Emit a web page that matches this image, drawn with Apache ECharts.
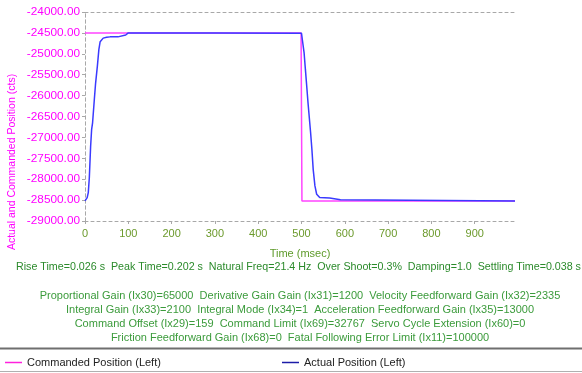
<!DOCTYPE html>
<html><head><meta charset="utf-8">
<script src="https://cdn.jsdelivr.net/npm/echarts/dist/echarts.min.js"></script>
<style>html,body{margin:0;padding:0;background:#fff}#c{width:582px;height:373px}</style>
</head><body><div id="c"></div>
<script>
// ---- data ----
const commandedT = [0, 499, 500, 501, 993];
const commandedV = [-24500, -24500, -26500, -28520, -28520];
const actualT = [0, 5, 7.6, 10, 13, 15.3, 17.5, 21.5, 24.5, 28.5, 32, 35, 42, 50, 58, 76, 78, 94, 96, 100, 300, 500, 502, 506, 509, 512, 515, 518, 521, 524, 527, 531, 535, 542, 565, 567, 590, 592, 993];
const actualV = [-28520, -28440, -28320, -27960, -27210, -26810, -26650, -26100, -25700, -25300, -24900, -24710, -24625, -24605, -24595, -24595, -24550, -24550, -24505, -24500, -24500, -24510, -24670, -24980, -25380, -25770, -26170, -26530, -26890, -27290, -27770, -28160, -28360, -28440, -28450, -28485, -28490, -28520, -28520];
const timeTicks = [0, 100, 200, 300, 400, 500, 600, 700, 800, 900];
const seriesNames = ['Commanded Position (Left)', 'Actual Position (Left)'];
const yAxisTitle = 'Actual and Commanded Position (cts)';
const statsLine = 'Rise Time=0.026 s  Peak Time=0.202 s  Natural Freq=21.4 Hz  Over Shoot=0.3%  Damping=1.0  Settling Time=0.038 s';
const gainLines = [
  'Proportional Gain (Ix30)=65000  Derivative Gain Gain (Ix31)=1200  Velocity Feedforward Gain (Ix32)=2335',
  'Integral Gain (Ix33)=2100  Integral Mode (Ix34)=1  Acceleration Feedforward Gain (Ix35)=13000',
  'Command Offset (Ix29)=159  Command Limit (Ix69)=32767  Servo Cycle Extension (Ix60)=0',
  'Friction Feedforward Gain (Ix68)=0  Fatal Following Error Limit (Ix11)=100000'
];
// ---- chart ----
const FONT = '"Liberation Sans", Arial, sans-serif';
const pair = (ts, vs) => ts.map((t, i) => [t, vs[i]]);
const dashed = { show: true, lineStyle: { color: '#a8a8a8', type: [3, 3], width: 1 } };
const chart = echarts.init(document.getElementById('c'), null, { renderer: 'canvas' });
const texts = [{
  type: 'text', x: 16, y: 262,
  style: { text: statsLine, fill: '#2b8a2b', font: '10.7px ' + FONT, textAlign: 'left' }
}, {
  type: 'text', x: 12, y: 162, rotation: Math.PI / 2,
  style: { text: yAxisTitle, fill: '#ff00ff', font: '10.5px ' + FONT, textAlign: 'center', textVerticalAlign: 'middle' }
}];
gainLines.forEach((s, i) => texts.push({
  type: 'text', x: 300, y: 290 + i * 14,
  style: { text: s, fill: '#3b9b3b', font: '11px ' + FONT, textAlign: 'center' }
}));
texts.push({ type: 'line', shape: { x1: 0, y1: 348.5, x2: 582, y2: 348.5 }, style: { stroke: '#6f6f6f', lineWidth: 2 } });
texts.push({ type: 'line', shape: { x1: 0, y1: 371.5, x2: 582, y2: 371.5 }, style: { stroke: '#b0b0b0', lineWidth: 1 } });
const legendBase = { top: 357, padding: 0, icon: 'rect', itemWidth: 17, itemHeight: 1.5, itemGap: 6,
  textStyle: { color: '#222', fontSize: 11, fontFamily: FONT } };
chart.setOption({
  animation: false,
  backgroundColor: '#fff',
  textStyle: { fontFamily: FONT },
  grid: { left: 85, right: 67, top: 12, bottom: 152, containLabel: false },
  legend: [
    Object.assign({ left: 5, data: [{ name: seriesNames[0], itemStyle: { color: '#ff22dd' }, lineStyle: { color: '#ff22dd' } }] }, legendBase),
    Object.assign({ left: 282, data: [{ name: seriesNames[1], itemStyle: { color: '#1c1ca8' }, lineStyle: { color: '#1c1ca8' } }] }, legendBase)
  ],
  xAxis: [{
    type: 'value', position: 'bottom', min: 0, max: 993, interval: 100,
    axisLine: dashed, axisTick: { show: true, length: 3, lineStyle: { color: '#a8a8a8' } },
    splitLine: { show: false },
    axisLabel: { color: '#6c9a2c', fontSize: 11, margin: 7, showMaxLabel: false,
      formatter: v => timeTicks.includes(v) ? String(v) : '' },
    name: 'Time (msec)', nameLocation: 'middle', nameGap: 27,
    nameTextStyle: { color: '#5e9a2a', fontSize: 11 }
  }, {
    type: 'value', position: 'top', min: 0, max: 993,
    axisLine: dashed, axisTick: { show: false }, axisLabel: { show: false }, splitLine: { show: false }
  }],
  yAxis: [{
    type: 'value', position: 'left', min: -29000, max: -24000, interval: 500,
    axisLine: dashed, axisTick: { show: true, length: 3, lineStyle: { color: '#a8a8a8' } },
    splitLine: { show: false },
    axisLabel: { color: '#ff00ff', fontSize: 11.8, margin: 5, formatter: v => v.toFixed(2) }
  }, {
    type: 'value', position: 'right', min: -29000, max: -24000,
    axisLine: dashed, axisTick: { show: false }, axisLabel: { show: false }, splitLine: { show: false }
  }],
  series: [{
    name: seriesNames[0], type: 'line', data: pair(commandedT, commandedV), showSymbol: false,
    lineStyle: { color: '#ff44ff', width: 1.5 }, itemStyle: { color: '#ff44ff' }
  }, {
    name: seriesNames[1], type: 'line', data: pair(actualT, actualV), showSymbol: false,
    lineStyle: { color: '#3a3aff', width: 1.5 }, itemStyle: { color: '#3a3aff' }
  }],
  graphic: texts
});
</script></body></html>
